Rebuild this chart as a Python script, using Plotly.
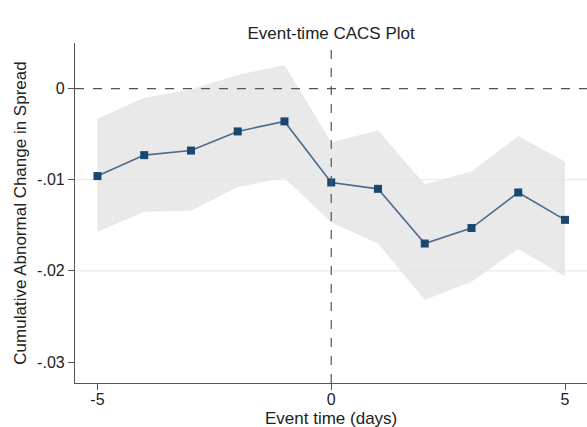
import plotly.graph_objects as go

event_time = [-5, -4, -3, -2, -1, 0, 1, 2, 3, 4, 5]
cacs = [-0.0096, -0.0073, -0.0068, -0.0047, -0.0036, -0.0103, -0.0110, -0.0170, -0.0153, -0.0114, -0.0144]
ci_upper = [-0.0033, -0.0010, -0.0001, 0.0015, 0.0026, -0.0059, -0.0046, -0.0105, -0.0091, -0.0052, -0.0080]
ci_lower = [-0.0157, -0.0135, -0.0134, -0.0108, -0.0098, -0.0147, -0.0170, -0.0232, -0.0212, -0.0176, -0.0206]

y_ticks = [0, -0.01, -0.02, -0.03]
y_tick_labels = ["0", "-.01", "-.02", "-.03"]
x_ticks = [-5, 0, 5]
grid_vals = [-0.01, -0.02]

font = "Liberation Sans, Arial, sans-serif"

fig = go.Figure()
fig.add_trace(go.Scatter(x=event_time, y=ci_upper, mode="lines", line=dict(width=0),
                         showlegend=False, hoverinfo="skip"))
fig.add_trace(go.Scatter(x=event_time, y=ci_lower, mode="lines", line=dict(width=0),
                         fill="tonexty", fillcolor="rgba(225,225,225,0.75)",
                         showlegend=False, hoverinfo="skip"))
fig.add_trace(go.Scatter(x=event_time, y=cacs, mode="lines+markers",
                         line=dict(color="#4d6a88", width=1.6),
                         marker=dict(symbol="square", size=8, color="#1a476f"),
                         showlegend=False))

shapes = []
for g in grid_vals:
    shapes.append(dict(type="line", xref="paper", x0=0, x1=1, yref="y", y0=g, y1=g,
                       line=dict(color="#e6e6e6", width=1), layer="below"))
shapes.append(dict(type="line", xref="paper", x0=0, x1=1, yref="y", y0=0, y1=0,
                   line=dict(color="#555555", width=1.2, dash="dash")))
shapes.append(dict(type="line", xref="x", x0=0, x1=0, yref="paper", y0=0, y1=1,
                   line=dict(color="#555555", width=1.2, dash="dash")))

fig.update_layout(
    width=587, height=427,
    margin=dict(l=75, r=0, t=43, b=44),
    paper_bgcolor="white", plot_bgcolor="white",
    font=dict(family=font, size=16, color="#222222"),
    title=dict(text="Event-time CACS Plot", x=0.5641, xanchor="center", y=0.923, yanchor="middle",
               font=dict(size=17, family=font, color="#222222")),
    shapes=shapes,
    annotations=[dict(text="Event time (days)", xref="x", x=0, yref="paper", y=-0.103,
                      xanchor="center", yanchor="middle", showarrow=False,
                      font=dict(size=17, family=font, color="#222222"))],
    xaxis=dict(range=[-5.48, 5.47], tickvals=x_ticks, ticktext=[str(v) for v in x_ticks],
               showgrid=False, zeroline=False, showline=True, linecolor="#555555", linewidth=1.2,
               ticks="outside", ticklen=6, tickcolor="#555555", tickfont=dict(size=16),
               ticklabelstandoff=-4),
    yaxis=dict(range=[-0.0323, 0.0050], tickvals=y_ticks, ticktext=y_tick_labels,
               showgrid=False, zeroline=False, showline=True, linecolor="#555555", linewidth=1.2,
               ticks="outside", ticklen=6, tickcolor="#555555", tickfont=dict(size=16),
               title=dict(text="Cumulative Abnormal Change in Spread", standoff=6, font=dict(size=17))),
)

fig.write_html("out.html")
